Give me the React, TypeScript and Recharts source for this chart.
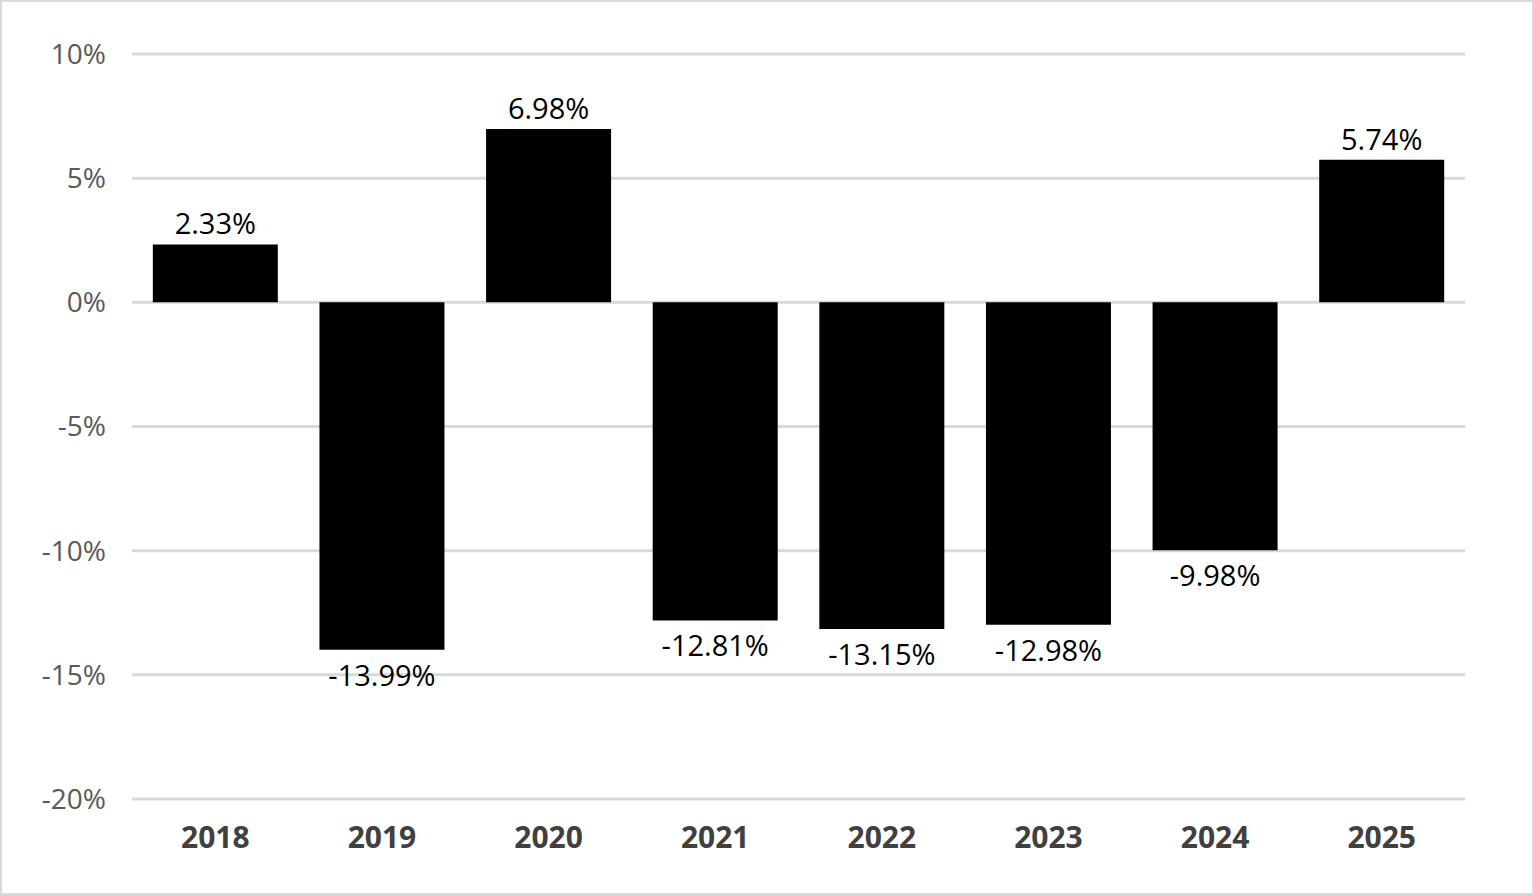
import React from "react";
import { BarChart, Bar, XAxis, YAxis, CartesianGrid, LabelList } from "recharts";

const years = ["2018", "2019", "2020", "2021", "2022", "2023", "2024", "2025"];
const values = [2.33, -13.99, 6.98, -12.81, -13.15, -12.98, -9.98, 5.74];
const yTicks = [-20, -15, -10, -5, 0, 5, 10];

const data = years.map((y, i) => ({ year: y, v: values[i] }));

const DataLabel = (props: any) => {
  const { x, y, width, height, value } = props;
  const top = Math.min(y, y + height);
  const bottom = Math.max(y, y + height);
  const cx = x + width / 2;
  const neg = value < 0;
  return (
    <text
      x={cx}
      y={neg ? bottom + 36 : top - 10}
      textAnchor="middle"
      fontSize={29}
      fill="#000"
      fontFamily="'Open Sans', sans-serif"
    >
      {value.toFixed(2) + "%"}
    </text>
  );
};

export default function App() {
  return (
    <div style={{ position: "fixed", left: 0, top: 0, width: 1534, height: 895, background: "#fff", boxSizing: "border-box", border: "2px solid #d9d9d9" }}>
      <BarChart
        width={1530}
        height={891}
        data={data}
        margin={{ top: 52, right: 67, bottom: 30, left: 20 }}
        barCategoryGap="12.5%"
      >
        <CartesianGrid vertical={false} stroke="#d9d9d9" strokeWidth={3} />
        <XAxis
          dataKey="year"
          axisLine={false}
          tickLine={false}
          tick={{ fontSize: 30, fontWeight: "bold", fill: "#404040", fontFamily: "'Open Sans', sans-serif" }}
          tickMargin={22}
          height={64}
        />
        <YAxis
          domain={[-20, 10]}
          ticks={yTicks}
          axisLine={false}
          tickLine={false}
          width={110}
          tickMargin={20}
          tickFormatter={(t: number) => t + "%"}
          tick={{ fontSize: 28, fill: "#595959", fontFamily: "'Open Sans', sans-serif" }}
        />
        <Bar dataKey="v" fill="#000" isAnimationActive={false}>
          <LabelList dataKey="v" content={DataLabel} />
        </Bar>
      </BarChart>
    </div>
  );
}
